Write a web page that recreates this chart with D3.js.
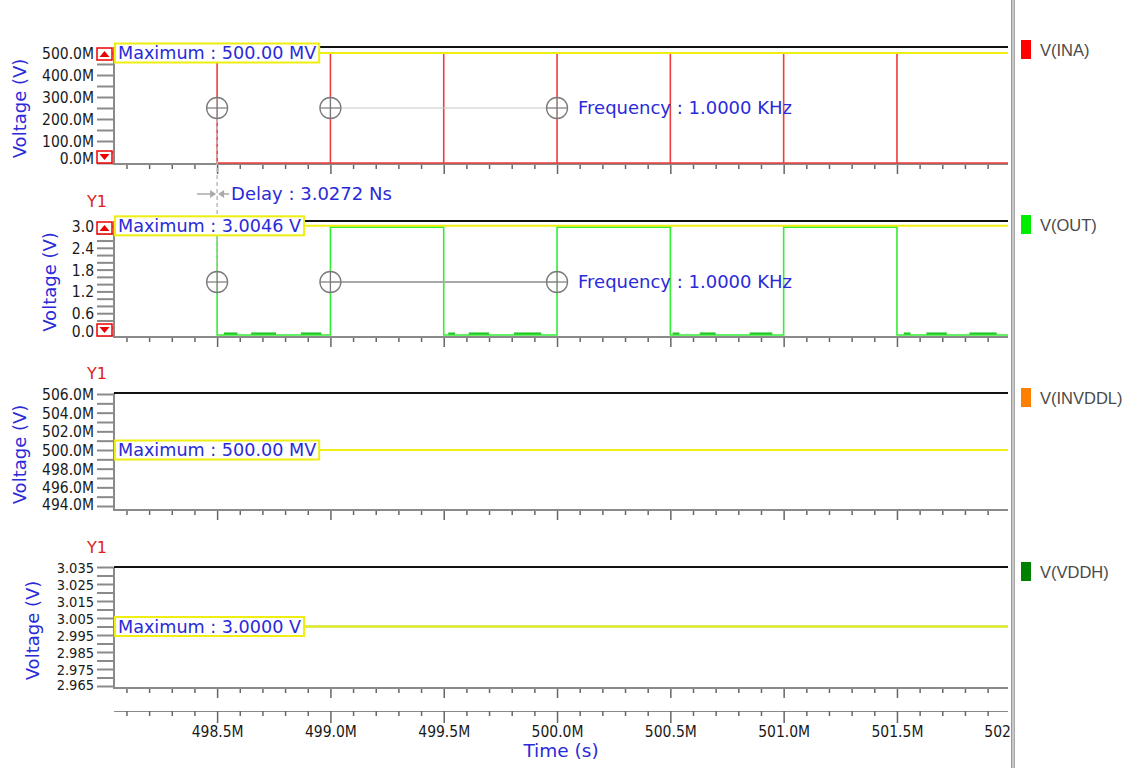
<!DOCTYPE html>
<html><head><meta charset="utf-8">
<script src="https://cdn.jsdelivr.net/npm/d3@7"></script>
<style>body{margin:0;background:#fff;} svg{display:block}</style>
</head><body>
<svg id="c" width="1138" height="768"></svg>
<script>
// ---------- data ----------
const timeDomain = [498.045, 501.99];
const timeMajorTicks = [498.5, 499.0, 499.5, 500.0, 500.5, 501.0, 501.5, 502.0];
const timeTickLabels = ["498.5M","499.0M","499.5M","500.0M","500.5M","501.0M","501.5M","502.0M"];
const timeMinorTicks = d3.range(498.1, 502.0, 0.1).map(v => +v.toFixed(1));

const seriesNames = ["V(INA)", "V(OUT)", "V(INVDDL)", "V(VDDH)"];
const seriesColors = ["#ff0000", "#00ee00", "#ff8000", "#008000"];

// V(INA): narrow pulses (mV)
const inaPulseTimes = [498.5, 499.0, 499.5, 500.0, 500.5, 501.0, 501.5];
const inaHigh = 500.0, inaLow = 0.0;
// V(OUT): toggles at each pulse (V)
const outEdgeTimes = [498.5, 499.0, 499.5, 500.0, 500.5, 501.0, 501.5];
const outStartLevel = 2.97;
const outLevels = [0, 2.97, 0, 2.97, 0, 2.97, 0];
const outGlitches = [[498.53,498.59],[498.65,498.76],[498.87,498.96],
                     [499.52,499.55],[499.61,499.70],[499.81,499.93],
                     [500.51,500.54],[500.63,500.70],[500.85,500.95],
                     [501.53,501.56],[501.63,501.72],[501.82,501.94]];
const outGlitchLevel = 0.04;
// V(INVDDL) (mV) and V(VDDH) (V)
const invddlValue = 500.0;
const vddhValue = 3.0;

// axis ticks per panel
const p1Ticks = [0, 100, 200, 300, 400, 500];
const p1Labels = ["0.0M","100.0M","200.0M","300.0M","400.0M","500.0M"];
const p2Ticks = [0, 0.6, 1.2, 1.8, 2.4, 3.0];
const p2Labels = ["0.0","0.6","1.2","1.8","2.4","3.0"];
const p3Ticks = [494, 496, 498, 500, 502, 504, 506];
const p3Labels = ["494.0M","496.0M","498.0M","500.0M","502.0M","504.0M","506.0M"];
const p4Ticks = [2.965, 2.975, 2.985, 2.995, 3.005, 3.015, 3.025, 3.035];
const p4Labels = ["2.965","2.975","2.985","2.995","3.005","3.015","3.025","3.035"];

// measurement annotations
const maxLabels = ["Maximum : 500.00 MV", "Maximum : 3.0046 V", "Maximum : 500.00 MV", "Maximum : 3.0000 V"];
const maxValues = [500.0, 3.0046, 500.0, 3.0];
const cursorTimes = [498.5, 499.0, 500.0];
const freqLabel = "Frequency : 1.0000 KHz";
const delayLabel = "Delay : 3.0272 Ns";

// ---------- layout ----------
const L = 114, R = 1008;
const panels = [
  {top:47, bottom:164, domain:[0,500], range:[163,53], ticks:p1Ticks, labels:p1Labels, minorStep:50, ylabX:20, arrows:true, y1:false, fs:15.5, clampPad:6},
  {top:221, bottom:337, domain:[0,3.0], range:[335,226], ticks:p2Ticks, labels:p2Labels, minorStep:0.2, ylabX:50, arrows:true, y1:true, fs:15.5, clampPad:6},
  {top:393, bottom:510, domain:[494,506], range:[506,394], ticks:p3Ticks, labels:p3Labels, minorStep:1, ylabX:20, arrows:false, y1:true, fs:15.5, clampPad:6},
  {top:567, bottom:688, domain:[2.965,3.035], range:[686,567], ticks:p4Ticks, labels:p4Labels, minorStep:0.005, ylabX:33, arrows:false, y1:true, fs:14.5, clampPad:4}
];
const blue = "#2a2ad8";
const tickFont = "'DejaVu Sans Condensed','DejaVu Sans',sans-serif";
const annFont = "'DejaVu Sans',Verdana,sans-serif";

const svg = d3.select("#c");
const x = d3.scaleLinear().domain(timeDomain).range([L, R]);

svg.append("defs").append("clipPath").attr("id","clipR")
  .append("rect").attr("x",0).attr("y",0).attr("width",1010).attr("height",768);

panels.forEach((p, i) => {
  p.y = d3.scaleLinear().domain(p.domain).range(p.range);
  const g = svg.append("g");
  const minor = d3.range(p.domain[0], p.domain[1] + p.minorStep/2, p.minorStep);
  const ax = d3.axisLeft(p.y).tickValues(minor).tickFormat("").tickSize(16).tickSizeOuter(0);
  const ga = g.append("g").attr("transform", `translate(${L-1},0)`).call(ax);
  ga.select(".domain").remove();
  ga.selectAll(".tick line").attr("stroke","#8a8a8a").attr("stroke-width",2);
  const axl = d3.axisLeft(p.y).tickValues(p.ticks).tickFormat((d,j) => p.labels[j]).tickSize(0).tickPadding(0);
  const gl = g.append("g").attr("transform", `translate(94,0)`).call(axl);
  gl.select(".domain").remove();
  gl.selectAll(".tick text").attr("font-family", tickFont).attr("font-size", p.fs)
    .attr("fill","#1a1a1a").attr("dy","0.35em")
    .attr("y", function(d){ const yy = p.y(d); return Math.min(0, (p.bottom-p.clampPad) - yy); });
  const bx = d3.axisBottom(x).tickValues(timeMinorTicks).tickFormat("").tickSizeOuter(0).tickSize(5);
  const gb = g.append("g").attr("transform", `translate(0,${p.bottom})`).call(bx);
  gb.select(".domain").remove();
  gb.selectAll(".tick line").attr("stroke","#666").attr("stroke-width",1.5)
    .attr("y2", d => timeMajorTicks.some(m => Math.abs(m-d)<1e-6) ? 10 : 5);
  g.append("line").attr("x1",L).attr("x2",R).attr("y1",p.bottom).attr("y2",p.bottom).attr("stroke","#8a8a8a").attr("stroke-width",2);
  g.append("line").attr("x1",L).attr("x2",L).attr("y1",p.top).attr("y2",p.bottom+1).attr("stroke","#8a8a8a").attr("stroke-width",2);
  g.append("line").attr("x1",L).attr("x2",R).attr("y1",p.top).attr("y2",p.top).attr("stroke","#111").attr("stroke-width",2);
  svg.append("text").attr("transform", `translate(${p.ylabX},${(p.top+p.bottom)/2+3}) rotate(-90)`)
    .attr("text-anchor","middle").attr("dy","0.35em").attr("font-family",annFont).attr("font-size",18)
    .attr("fill",blue).text("Voltage (V)");
  if (p.y1) svg.append("text").attr("x",97).attr("y",p.top-14).attr("text-anchor","middle")
    .attr("font-family",annFont).attr("font-size",16).attr("fill","#e02020").text("Y1");
  if (p.arrows) {
    [[p.top+1, "up"], [p.bottom-13, "down"]].forEach(([yy, dir]) => {
      svg.append("rect").attr("x",97).attr("y",yy).attr("width",15).attr("height",12)
        .attr("fill","#fff").attr("stroke","#e00").attr("stroke-width",1.5);
      const cx = 104.5, cy = yy+6;
      const pts = dir==="up" ? [[cx-5,cy+3],[cx+5,cy+3],[cx,cy-3]] : [[cx-5,cy-3],[cx+5,cy-3],[cx,cy+3]];
      svg.append("path").attr("d", d3.line()(pts)+"Z").attr("fill","#e00");
    });
  }
});

// ---------- traces ----------
const pInA = panels[0], pOut = panels[1], pInv = panels[2], pVdd = panels[3];
const inaPts = [];
inaPulseTimes.forEach(t => { inaPts.push([t,inaLow],[t,inaHigh],[t,inaLow]); });
inaPts.push([timeDomain[1], inaLow]);
svg.append("path").attr("d", d3.line().x(d=>x(d[0])).y(d=>pInA.y(d[1]))(inaPts))
  .attr("fill","none").attr("stroke","#f03c3c").attr("stroke-width",1.6);

const outPts = [[outEdgeTimes[0], outStartLevel]];
outEdgeTimes.forEach((t,j) => { outPts.push([t, outLevels[j]]); });
outPts.push([timeDomain[1], outLevels[outLevels.length-1]]);
svg.append("path").attr("d", d3.line().curve(d3.curveStepAfter).x(d=>x(d[0])).y(d=>pOut.y(d[1]))(outPts))
  .attr("fill","none").attr("stroke","#33ee33").attr("stroke-width",1.6);
svg.append("g").selectAll("line").data(outGlitches).join("line")
  .attr("x1", d=>x(d[0])).attr("x2", d=>x(d[1]))
  .attr("y1", pOut.y(outGlitchLevel)).attr("y2", pOut.y(outGlitchLevel))
  .attr("stroke","#22c822").attr("stroke-width",2.2);

svg.append("line").attr("x1",x(timeDomain[0])).attr("x2",x(timeDomain[1]))
  .attr("y1",pInv.y(invddlValue)).attr("y2",pInv.y(invddlValue)).attr("stroke","#ff8000").attr("stroke-width",1.5);
svg.append("line").attr("x1",x(timeDomain[0])).attr("x2",x(timeDomain[1]))
  .attr("y1",pVdd.y(vddhValue)).attr("y2",pVdd.y(vddhValue)).attr("stroke","#008000").attr("stroke-width",1.5);

// ---------- cursors ----------
const cy1 = 108, cy2 = 282;
svg.append("line").attr("x1",x(cursorTimes[0])).attr("x2",x(cursorTimes[0])).attr("y1",cy1+11).attr("y2",cy2-11)
  .attr("stroke","#bbb").attr("stroke-width",1.5).attr("stroke-dasharray","4,3");
svg.append("line").attr("x1",x(cursorTimes[1])).attr("x2",x(cursorTimes[2])).attr("y1",cy1).attr("y2",cy1)
  .attr("stroke","#c8c8c8").attr("stroke-width",1.2);
svg.append("line").attr("x1",x(cursorTimes[1])).attr("x2",x(cursorTimes[2])).attr("y1",cy2).attr("y2",cy2)
  .attr("stroke","#a8a8a8").attr("stroke-width",2);
[cy1, cy2].forEach(cy => {
  cursorTimes.forEach(t => {
    const cx = x(t);
    svg.append("circle").attr("cx",cx).attr("cy",cy).attr("r",10.5).attr("fill","#fff").attr("fill-opacity",0.6)
      .attr("stroke","#7a7a7a").attr("stroke-width",1.3);
    svg.append("line").attr("x1",cx-10.5).attr("x2",cx+10.5).attr("y1",cy).attr("y2",cy).attr("stroke","#7a7a7a").attr("stroke-width",1.2);
    svg.append("line").attr("x1",cx).attr("x2",cx).attr("y1",cy-10.5).attr("y2",cy+10.5).attr("stroke","#7a7a7a").attr("stroke-width",1.2);
  });
  svg.append("text").attr("x", x(cursorTimes[2])+21).attr("y", cy).attr("dy","0.35em")
    .attr("font-family",annFont).attr("font-size",18).attr("fill",blue).text(freqLabel);
});
const dx = x(cursorTimes[0]), dy = 194;
svg.append("line").attr("x1",dx-20).attr("x2",dx-6).attr("y1",dy).attr("y2",dy).attr("stroke","#aaa").attr("stroke-width",1.5);
svg.append("path").attr("d",`M${dx-7},${dy-4}L${dx-1},${dy}L${dx-7},${dy+4}Z`).attr("fill","#aaa");
svg.append("path").attr("d",`M${dx+7},${dy-4}L${dx+1},${dy}L${dx+7},${dy+4}Z`).attr("fill","#aaa");
svg.append("line").attr("x1",dx+6).attr("x2",dx+12).attr("y1",dy).attr("y2",dy).attr("stroke","#aaa").attr("stroke-width",1.5);
svg.append("text").attr("x",dx+14).attr("y",dy).attr("dy","0.35em").attr("font-family",annFont).attr("font-size",18)
  .attr("fill",blue).text(delayLabel);

// ---------- maximum markers ----------
panels.forEach((p,i) => {
  const yy = p.y(maxValues[i]);
  const g = svg.append("g");
  const line = g.append("line");
  const rect = g.append("rect");
  const t = g.append("text").attr("x",118).attr("y",yy).attr("dy","0.36em")
    .attr("font-family",annFont).attr("font-size",17.6).attr("fill",blue).text(maxLabels[i]);
  const bb = t.node().getBBox();
  const bx = 115, bw = bb.x + bb.width + 3 - bx;
  line.attr("x1",bx+bw).attr("x2",R).attr("y1",yy).attr("y2",yy).attr("stroke","#eeee10").attr("stroke-width",2);
  rect.attr("x",bx).attr("y",yy-9.5).attr("width",bw).attr("height",19)
    .attr("fill","#fff").attr("stroke","#eeee10").attr("stroke-width",2);
});

// ---------- main time axis ----------
const axisY = 711;
const gax = svg.append("g").attr("transform",`translate(0,${axisY})`).attr("clip-path","url(#clipR)");
gax.append("line").attr("x1",L).attr("x2",R).attr("y1",0).attr("y2",0).attr("stroke","#8a8a8a").attr("stroke-width",2);
const minorAx = d3.axisBottom(x).tickValues(timeMinorTicks).tickFormat("").tickSize(5).tickSizeOuter(0);
const gm = gax.append("g").call(minorAx);
gm.select(".domain").remove();
gm.selectAll(".tick line").attr("stroke","#666").attr("stroke-width",1.5)
  .attr("y2", d => timeMajorTicks.some(m => Math.abs(m-d)<1e-6) ? 12 : 5);
const xlab = d3.axisBottom(x).tickValues(timeMajorTicks).tickFormat((d,j)=>timeTickLabels[j]).tickSize(0).tickPadding(15);
const gx = gax.append("g").call(xlab);
gx.select(".domain").remove();
gx.selectAll(".tick text").attr("font-family",tickFont).attr("font-size",15.5).attr("fill","#1a1a1a");
gx.selectAll(".tick").filter(d => d > timeDomain[1]).attr("transform", `translate(${x(502.0)},0)`);
svg.append("text").attr("x",561).attr("y",757).attr("text-anchor","middle").attr("font-family",annFont)
  .attr("font-size",18.5).attr("fill",blue).text("Time (s)");

// ---------- separator + legend ----------
svg.append("rect").attr("x",1011).attr("y",0).attr("width",4).attr("height",768).attr("fill","#c8c8c8");
svg.append("line").attr("x1",1011.5).attr("x2",1011.5).attr("y1",0).attr("y2",768).attr("stroke","#999").attr("stroke-width",1);
svg.append("line").attr("x1",1014.5).attr("x2",1014.5).attr("y1",0).attr("y2",768).attr("stroke","#aaa").attr("stroke-width",1);
const legY = [40, 215, 388, 562];
seriesNames.forEach((n,i) => {
  svg.append("rect").attr("x",1021).attr("y",legY[i]).attr("width",10).attr("height",19).attr("fill",seriesColors[i]);
  svg.append("text").attr("x",1040).attr("y",legY[i]+10).attr("dy","0.35em").attr("font-family","'Liberation Sans',Arial,sans-serif")
    .attr("font-size",16.5).attr("fill","#4a4a4a").text(n);
});
</script>
</body></html>
